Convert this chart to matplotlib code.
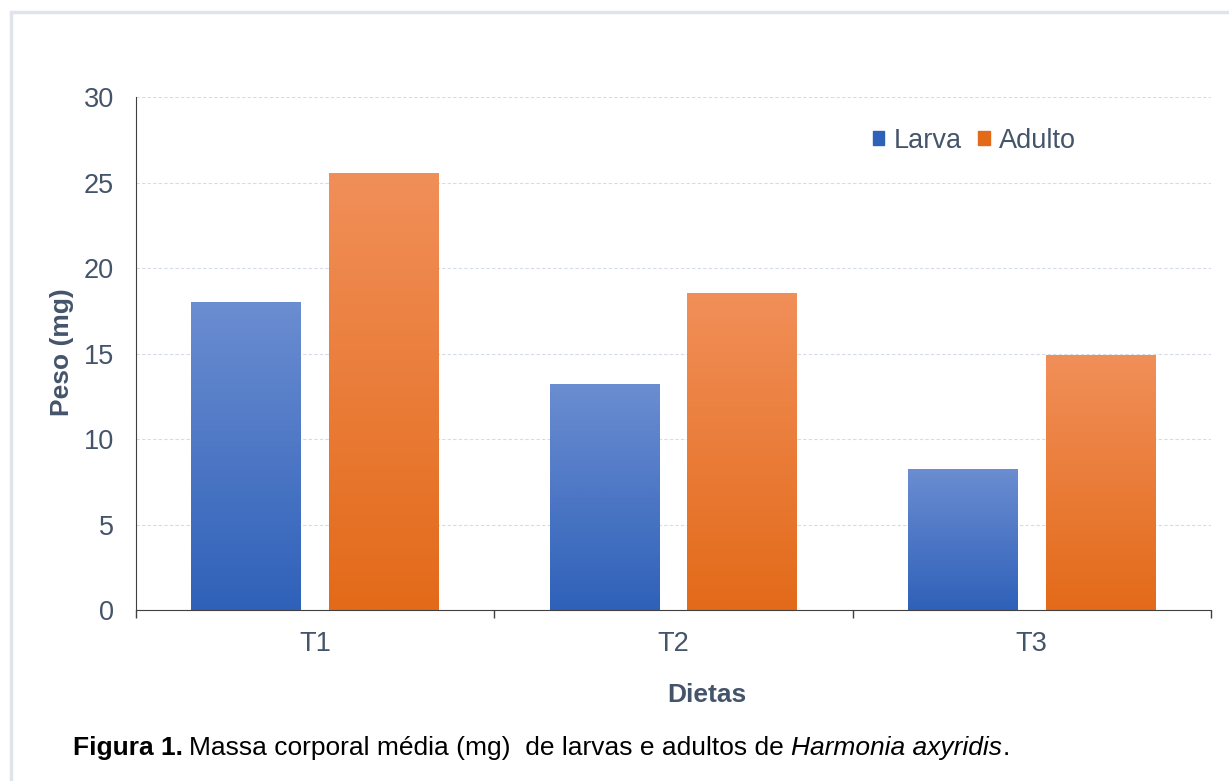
import numpy as np
import matplotlib.pyplot as plt
from matplotlib.patches import Rectangle
from matplotlib.colors import LinearSegmentedColormap

plt.rcParams['font.family'] = ['Liberation Sans', 'DejaVu Sans']

# dados
dietas = ["T1", "T2", "T3"]
larva = [18.0, 13.2, 8.2]
adulto = [25.5, 18.5, 14.9]
series = ["Larva", "Adulto"]

cor_texto = "#44546a"
grad_larva = ("#2f61b9", "#6b8dd1")
grad_adulto = ("#e36a19", "#f18f59")

fig = plt.figure(figsize=(12.29, 7.81), dpi=100)
ax = fig.add_axes([0.1107, 0.2189, 0.8746, 0.6569])

# moldura clara em volta
fig.patches.append(Rectangle((11 / 1229, -0.05), 1.2, 1 - 12 / 781 + 0.05,
                             transform=fig.transFigure, fill=False,
                             edgecolor="#dfe4ea", linewidth=2.5, zorder=0))

x = np.arange(len(dietas))
larg = 0.307
desloc = 0.1925
grad = np.linspace(0, 1, 256).reshape(-1, 1)


def barra_gradiente(x0, altura, cores):
    cmap = LinearSegmentedColormap.from_list("g", list(cores))
    ax.imshow(grad, cmap=cmap, origin="lower", aspect="auto",
              extent=(x0 - larg / 2, x0 + larg / 2, 0, altura), zorder=2)


for i in range(len(dietas)):
    barra_gradiente(x[i] - desloc, larva[i], grad_larva)
    barra_gradiente(x[i] + desloc, adulto[i], grad_adulto)

ax.set_xlim(-0.5, len(dietas) - 0.5)
ax.set_ylim(0, 30)
ax.set_yticks(range(0, 31, 5))
ax.set_xticks(x)
ax.set_xticklabels(dietas)
ax.set_xticks(np.arange(-0.5, len(dietas), 1), minor=True)

ax.tick_params(axis="y", length=0, pad=16, labelsize=19.5, labelcolor=cor_texto)
ax.tick_params(axis="x", which="major", length=0, pad=15, labelsize=19.5,
               labelcolor=cor_texto)
ax.tick_params(axis="x", which="minor", length=6, width=1, color="#404040",
               direction="out")

ax.grid(axis="y", color="#d5dce5", linestyle=(0, (3, 2)), linewidth=0.8, zorder=0)
ax.set_axisbelow(True)
for lado in ["top", "right"]:
    ax.spines[lado].set_visible(False)
ax.spines["left"].set_color("#404040")
ax.spines["bottom"].set_color("#404040")

# legenda
alcas = [Rectangle((0, 0), 1, 1, color=grad_larva[0]),
         Rectangle((0, 0), 1, 1, color=grad_adulto[0])]
leg = ax.legend(alcas, series, loc="center left",
                bbox_to_anchor=(873 / 1229, 1 - 141 / 781),
                bbox_transform=fig.transFigure, borderaxespad=0, borderpad=0,
                ncol=2, frameon=False, fontsize=19.5, handlelength=0.42,
                handleheight=0.42, handletextpad=0.35, columnspacing=0.6)
for t in leg.get_texts():
    t.set_color(cor_texto)

fig.text(62 / 1229, 1 - 352 / 781, "Peso (mg)", rotation=90, ha="center",
         va="center", fontsize=19, fontweight="bold", color=cor_texto)
fig.text(707 / 1229, 1 - 695 / 781, "Dietas", ha="center", va="center",
         fontsize=19, fontweight="bold", color=cor_texto)

# legenda da figura
y_leg = 1 - 748 / 781
t1 = fig.text(73 / 1229, y_leg, "Figura 1.", fontsize=19, fontweight="bold",
              color="black", va="center")
fig.canvas.draw()
bb = t1.get_window_extent()
t2 = fig.text(bb.x1 / 1229 + 0.005, y_leg,
              "Massa corporal média (mg)  de larvas e adultos de ",
              fontsize=19, color="black", va="center")
bb = t2.get_window_extent()
t3 = fig.text(bb.x1 / 1229, y_leg, "Harmonia axyridis", fontsize=19,
              style="italic", color="black", va="center")
bb = t3.get_window_extent()
fig.text(bb.x1 / 1229, y_leg, ".", fontsize=19, color="black", va="center")

fig.savefig("out.png", dpi=100)
